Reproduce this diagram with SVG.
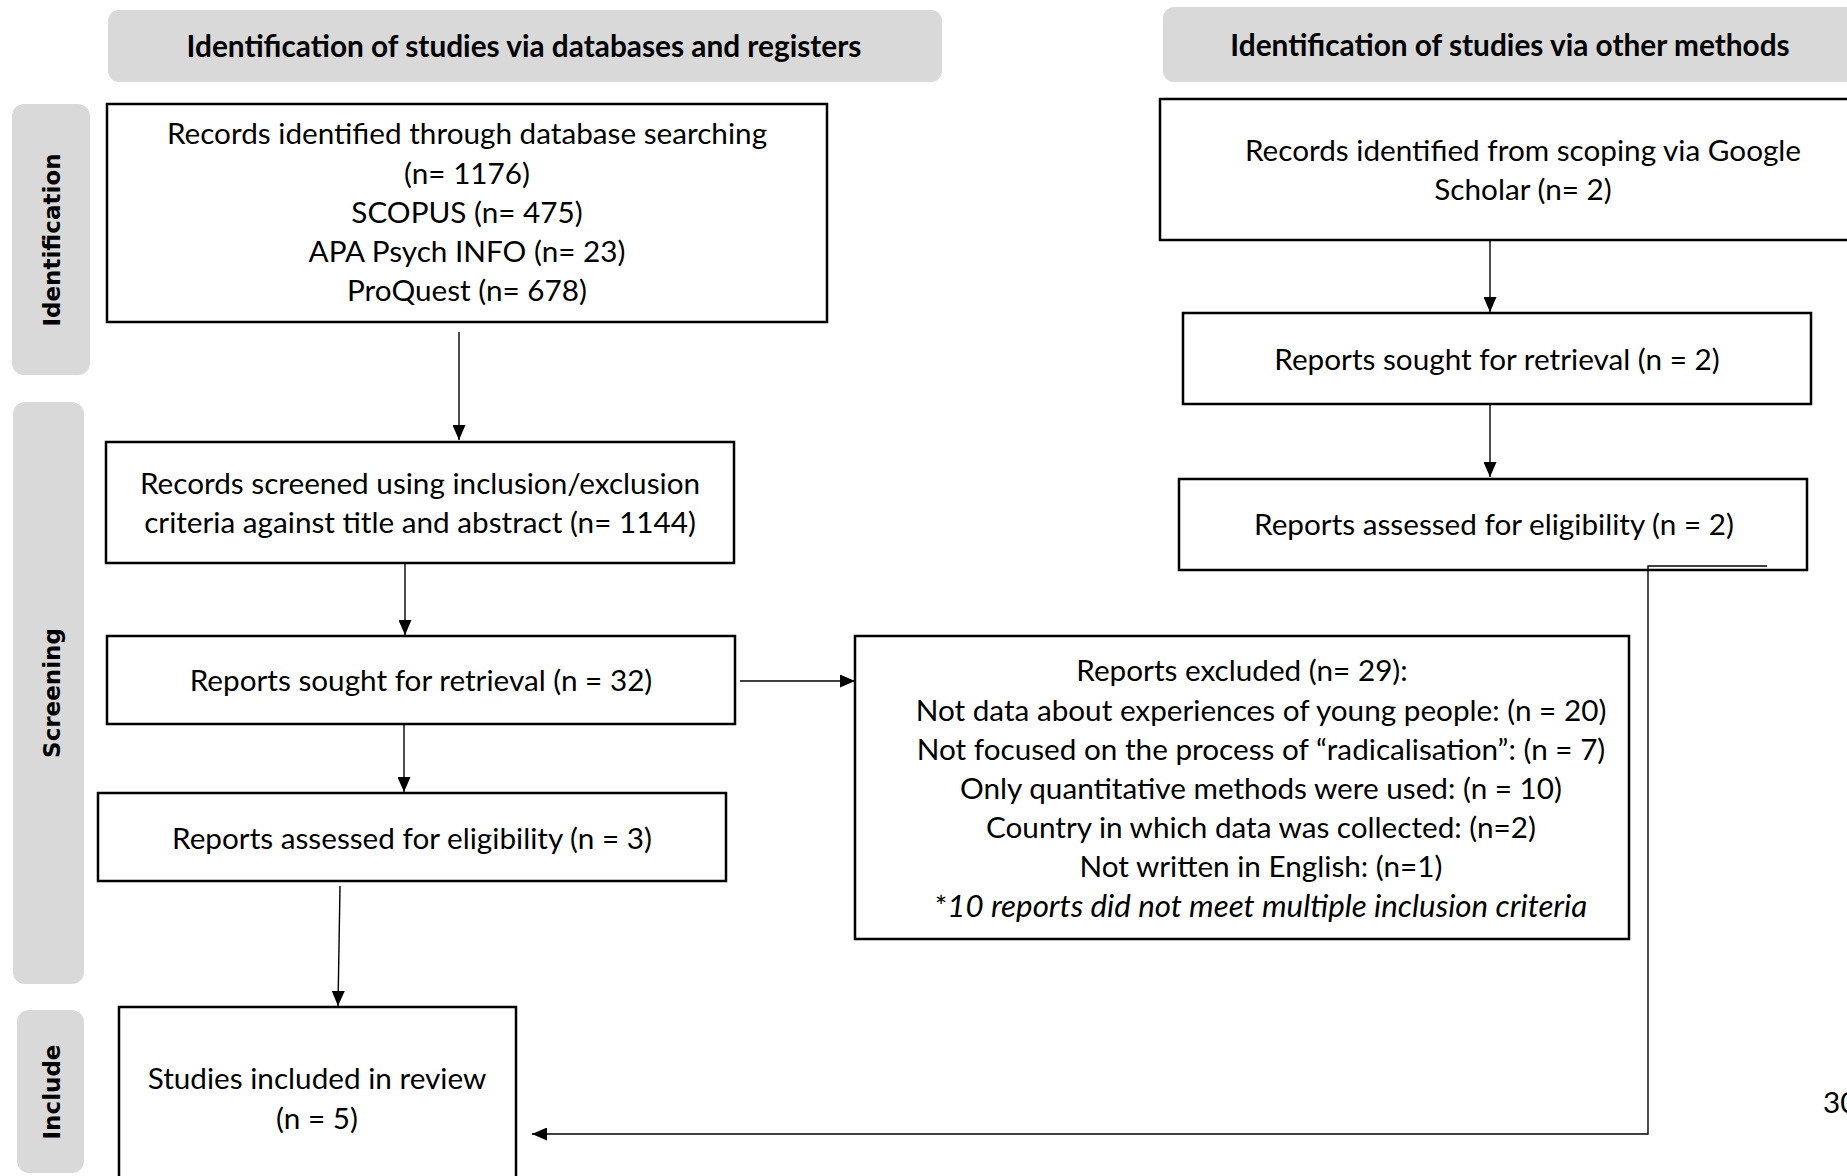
<svg xmlns="http://www.w3.org/2000/svg" width="1847" height="1176" viewBox="0 0 1847 1176">
<defs>
<style>
.hdr{fill:#d9d9d9}
.side{fill:#d9d9d9}
.box{fill:#ffffff;stroke:#000;stroke-width:2.5}
.t{font-family:Lato,"Liberation Sans",sans-serif;font-size:29.7px;fill:#000;text-anchor:middle}
.ht{font-family:Lato,"Liberation Sans",sans-serif;font-size:29.8px;font-weight:bold;fill:#000;text-anchor:middle}
.st{font-family:"DejaVu Sans",sans-serif;font-size:23px;font-weight:bold;fill:#000;text-anchor:middle}
.c{fill:none;stroke:#000;stroke-width:1.4}
</style>
<marker id="ah" markerUnits="userSpaceOnUse" markerWidth="15" markerHeight="13" refX="15" refY="6.5" orient="auto">
<path d="M0,0 L15,6.5 L0,13 z" fill="#000"/>
</marker>
</defs>
<rect width="1847" height="1176" fill="#fff"/>

<g id="header-databases">
<rect class="hdr" x="108" y="10" width="834" height="72" rx="11"/>
<text class="ht" x="524" y="57">Identification of studies via databases and registers</text>
</g>
<g id="header-other">
<rect class="hdr" x="1163" y="7" width="720" height="75" rx="11"/>
<text class="ht" x="1510" y="56">Identification of studies via other methods</text>
</g>

<g id="phase-identification">
<rect class="side" x="12" y="104" width="78" height="271" rx="12"/>
<text class="st" transform="translate(60,240) rotate(-90)">Identification</text>
</g>
<g id="phase-screening">
<rect class="side" x="13" y="402" width="71" height="582" rx="12"/>
<text class="st" transform="translate(60,693) rotate(-90)">Screening</text>
</g>
<g id="phase-include">
<rect class="side" x="17" y="1010" width="67" height="163" rx="12"/>
<text class="st" transform="translate(60,1092) rotate(-90)">Include</text>
</g>

<g id="box-db-records">
<rect class="box" x="107" y="104" width="720" height="218"/>
<text class="t" x="467" y="144">Records identified through database searching</text>
<text class="t" x="467" y="184">(n= 1176)</text>
<text class="t" x="467" y="223">SCOPUS (n= 475)</text>
<text class="t" x="467" y="262">APA Psych INFO (n= 23)</text>
<text class="t" x="467" y="301">ProQuest (n= 678)</text>
</g>
<g id="box-screened">
<rect class="box" x="106" y="442" width="628" height="121"/>
<text class="t" x="420" y="494">Records screened using inclusion/exclusion</text>
<text class="t" x="420" y="533">criteria against title and abstract (n= 1144)</text>
</g>
<g id="box-sought-db">
<rect class="box" x="107" y="636" width="628" height="88"/>
<text class="t" x="421" y="691">Reports sought for retrieval (n = 32)</text>
</g>
<g id="box-assessed-db">
<rect class="box" x="98" y="793" width="628" height="88"/>
<text class="t" x="412" y="849">Reports assessed for eligibility (n = 3)</text>
</g>
<g id="box-included">
<rect class="box" x="119" y="1007" width="397" height="190"/>
<text class="t" x="317" y="1089">Studies included in review</text>
<text class="t" x="317" y="1129">(n = 5)</text>
</g>
<g id="box-excluded">
<rect class="box" x="855" y="636" width="774" height="303"/>
<text class="t" x="1242" y="681">Reports excluded (n= 29):</text>
<text class="t" x="1261" y="721">Not data about experiences of young people: (n = 20)</text>
<text class="t" x="1261" y="760">Not focused on the process of “radicalisation”: (n = 7)</text>
<text class="t" x="1261" y="799">Only quantitative methods were used: (n = 10)</text>
<text class="t" x="1261" y="838">Country in which data was collected: (n=2)</text>
<text class="t" x="1261" y="877">Not written in English: (n=1)</text>
<text class="t" x="1261" y="917">*<tspan font-style="italic" font-size="31.3">10 reports did not meet multiple inclusion criteria</tspan></text>
</g>
<g id="box-scoping">
<rect class="box" x="1160" y="99" width="720" height="141"/>
<text class="t" x="1523" y="161">Records identified from scoping via Google</text>
<text class="t" x="1523" y="200">Scholar (n= 2)</text>
</g>
<g id="box-sought-other">
<rect class="box" x="1183" y="313" width="628" height="91"/>
<text class="t" x="1497" y="370">Reports sought for retrieval (n = 2)</text>
</g>
<g id="box-assessed-other">
<rect class="box" x="1179" y="479" width="628" height="91"/>
<text class="t" x="1494" y="535">Reports assessed for eligibility (n = 2)</text>
</g>

<g id="connectors">
<line class="c" x1="459" y1="332" x2="459" y2="440" marker-end="url(#ah)"/>
<line class="c" x1="405" y1="564" x2="405" y2="635" marker-end="url(#ah)"/>
<line class="c" x1="404" y1="725" x2="404" y2="792" marker-end="url(#ah)"/>
<line class="c" x1="340" y1="886" x2="338" y2="1006" marker-end="url(#ah)"/>
<line class="c" x1="740" y1="681" x2="855" y2="681" marker-end="url(#ah)"/>
<line class="c" x1="1490" y1="241" x2="1490" y2="312" marker-end="url(#ah)"/>
<line class="c" x1="1490" y1="405" x2="1490" y2="477" marker-end="url(#ah)"/>
<path class="c" d="M1767,566 H1648 V1134 H532" marker-end="url(#ah)"/>
</g>

<text class="t" x="1823" y="1113" style="text-anchor:start">30</text>
</svg>
